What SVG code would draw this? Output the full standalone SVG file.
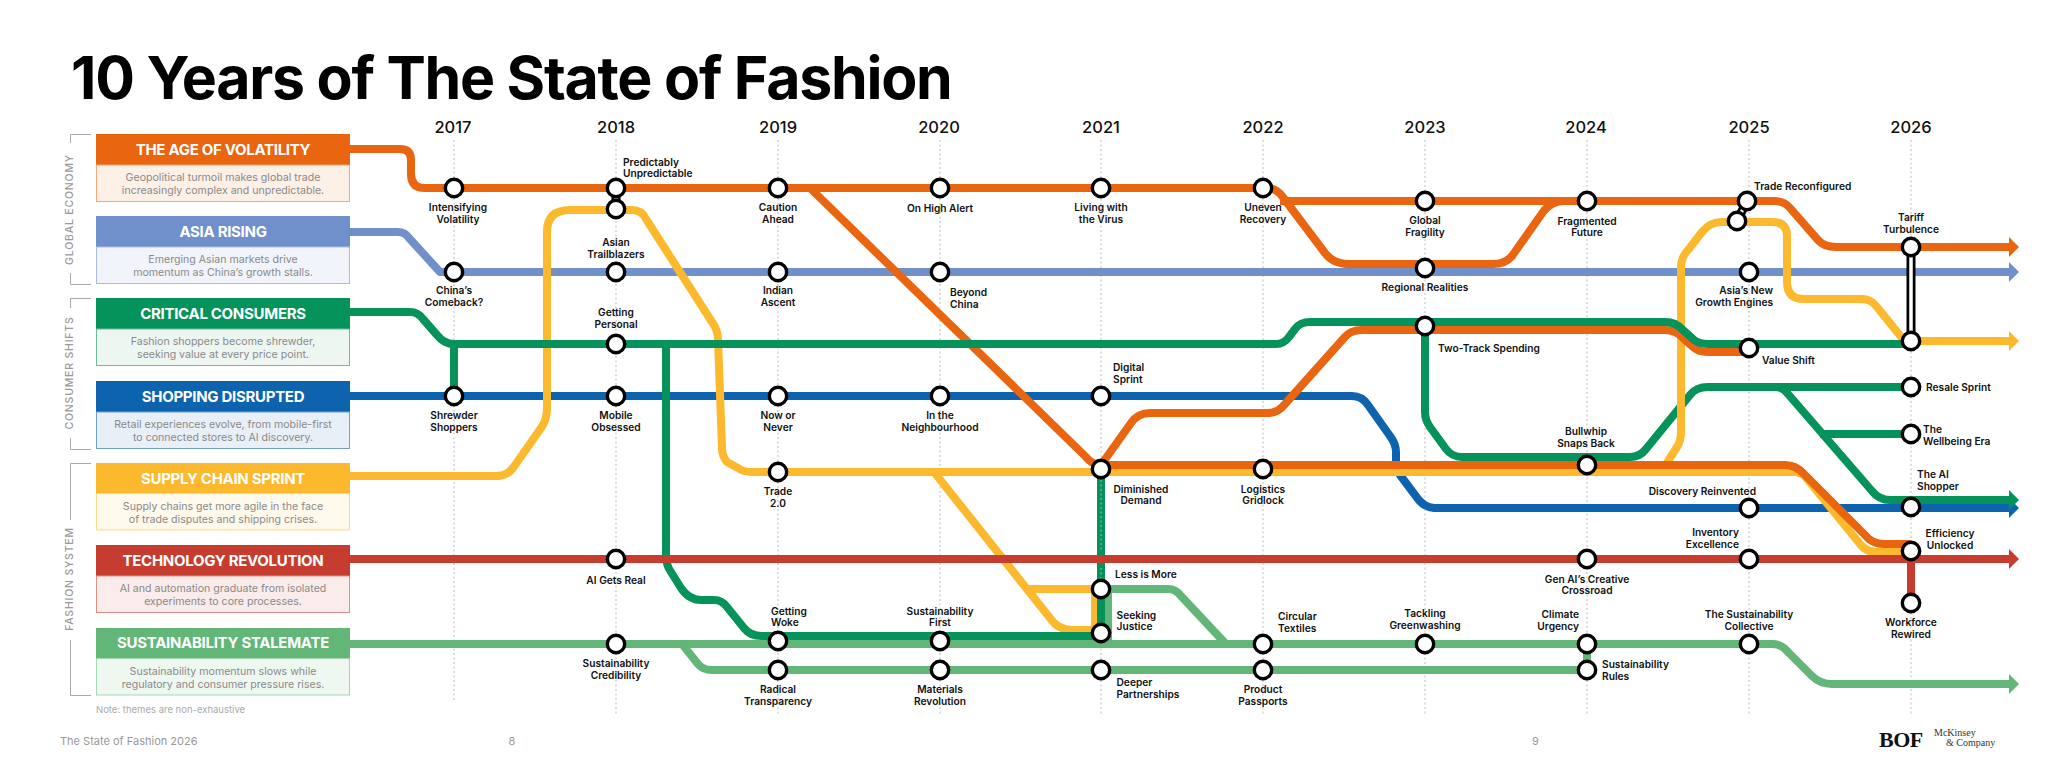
<svg xmlns="http://www.w3.org/2000/svg" width="2048" height="768" viewBox="0 0 2048 768">
<style>
text{font-family:Inter,"Liberation Sans",sans-serif}
.title{font-size:59px;font-weight:700;letter-spacing:-1.26px;fill:#000}
.yr{font-size:16.5px;font-weight:500;text-anchor:middle;fill:#111}
.l{font-size:10.2px;font-weight:600;fill:#111}
.c{text-anchor:middle}
.e{text-anchor:end}
.h{font-size:15px;font-weight:700;letter-spacing:-.3px;fill:#fff;text-anchor:middle}
.b{font-size:10.6px;font-weight:400;fill:#8a8a8a;text-anchor:middle}
.s{font-size:10.5px;font-weight:500;letter-spacing:.8px;fill:#9a9a9a;text-anchor:middle}
.f{font-size:11px;fill:#999}
.bk{fill:none;stroke:#aaa;stroke-width:1}
.grid{fill:none;stroke:#bbb;stroke-width:1;stroke-dasharray:2 2.5}
.ln{fill:none;stroke-width:8;stroke-linejoin:round}
.org{stroke:#E9650F}.per{stroke:#7090CB}.grn{stroke:#06925B}.blu{stroke:#0E63AE}.yel{stroke:#FDB92E}.red{stroke:#C63C2E}.lgr{stroke:#62B678}
.a-org{fill:#E9650F}.a-per{fill:#7090CB}.a-grn{fill:#06925B}.a-blu{fill:#0E63AE}.a-yel{fill:#FDB92E}.a-red{fill:#C63C2E}.a-lgr{fill:#62B678}
.n{fill:#fff;stroke:#000;stroke-width:3.4}
.bar{fill:none;stroke:#000;stroke-width:9}
.barw{fill:none;stroke:#fff;stroke-width:3.5}
</style>

<text class="title" x="71" y="99">10 Years of The State of Fashion</text>

<g id="grid">
<path class="grid" d="M454 140V702M616 140V716M778 140V716M940 140V716M1101 140V716M1263 140V716M1425 140V716M1587 140V716M1749 140V716M1911 140V716"/>
</g>
<g id="years">
<text class="yr" x="453" y="133">2017</text><text class="yr" x="616" y="133">2018</text><text class="yr" x="778" y="133">2019</text><text class="yr" x="939" y="133">2020</text><text class="yr" x="1101" y="133">2021</text><text class="yr" x="1263" y="133">2022</text><text class="yr" x="1425" y="133">2023</text><text class="yr" x="1586" y="133">2024</text><text class="yr" x="1749" y="133">2025</text><text class="yr" x="1911" y="133">2026</text>
</g>

<g id="sections">
<path class="bk" d="M91 134.500H70.500V143M70.500 273V284.500H91"/>
<text class="s" transform="translate(72.500 209.500) rotate(-90)">GLOBAL ECONOMY</text>
<path class="bk" d="M91 298.500H70.500V308M70.500 438V449.500H91"/>
<text class="s" transform="translate(72.500 373) rotate(-90)">CONSUMER SHIFTS</text>
<path class="bk" d="M91 463.500H70.500V520M70.500 640V695.500H91"/>
<text class="s" transform="translate(72.500 579) rotate(-90)">FASHION SYSTEM</text>
</g>

<g id="connectors">
<path class="ln per" d="M350 232H398Q405 232 409 238L440 272H2010"/>
<polygon class="a-per" points="2009,262 2019,272 2009,282"/>
<path class="ln blu" d="M350 396H1352Q1362 396 1368 405L1390 436Q1396 444 1396 452V466Q1397 470 1400 475L1418 499Q1424 507 1434 508H2010"/>
<polygon class="a-blu" points="2009,498 2019,508 2009,518"/>
<path class="ln lgr" d="M350 644H1772Q1782 644 1788 652L1812 676Q1820 684 1832 684H2010"/>
<polygon class="a-lgr" points="2009,674 2019,684 2009,694"/>
<path class="ln lgr" d="M682 644L698 664Q703 670 712 670H1587V644"/>
<path class="ln lgr" d="M1101 589H1168Q1176 589 1181 596L1226 644M1108 589V644"/>
<path class="ln grn" d="M1425 326V412Q1425 420 1430 427L1446 449Q1452 457 1462 457H1630Q1640 457 1646 449L1690 395Q1696 387 1708 387H1911"/>
<path class="ln grn" d="M1775 387Q1783 387 1788 394L1872 491Q1879 500 1890 500H2010M1820 434H1911"/>
<polygon class="a-grn" points="2009,490 2019,500 2009,510"/>
<path class="ln yel" d="M350 476H497Q507 476 513 468L541 428Q547 420 547 408V232Q547 210 570 210H632Q642 210 646 219L712 322Q718 330 718 340L722 448Q722 456 727 462L738 468Q743 472 752 472H1795Q1802 472 1808 480L1860 544Q1866 552 1876 552H1911"/>
<path class="ln yel" d="M934 472L1050 618Q1058 630 1072 630H1095V589H1028"/>
<path class="ln yel" d="M1645 472H1656Q1664 469 1670 458L1677 447Q1681 441 1681 432V268Q1681 257 1688 250L1702 232Q1710 222 1722 222H1772Q1787 222 1787 236V282Q1787 299 1804 299H1862Q1871 299 1877 307L1902 338Q1905 341 1915 341H2010"/>
<polygon class="a-yel" points="2009,331 2019,341 2009,351"/>
<path class="ln org" d="M350 149H400Q411 149 411 160V174Q411 188 425 188H1266Q1276 188 1282 196L1325 253Q1333 264 1350 264H1493Q1505 264 1512 256L1543 212Q1551 201 1565 201H1587M1280 201H1775Q1784 201 1790 208L1818 240Q1824 247 1836 247H2010"/>
<polygon class="a-org" points="2009,237 2019,247 2009,257"/>
<path class="ln org" d="M810 188L1085 456Q1092 465 1101 465H1785Q1796 465 1804 474L1865 535Q1872 544 1884 544H1911"/>
<path class="ln org" d="M1101 465L1131 423Q1138 413 1150 413H1268Q1278 413 1285 404L1344 338Q1350 330 1362 330H1665Q1676 330 1683 338L1693 347Q1698 352 1708 352H1749"/>
<path class="ln grn" d="M350 312H410Q418 312 423 319L437 335Q444 344 454 344V396M454 344H1276Q1284 344 1289 337L1295 329Q1300 322 1310 322H1665Q1676 322 1683 330L1693 339Q1698 344 1708 344H1911"/>
<path class="ln grn" d="M666 344V556Q666 565 671 572L681 588Q689 600 701 600H714Q722 600 727 607L744 628Q750 636 762 636H1101"/>
<path class="ln grn" d="M1101 469V636"/>
<path class="ln red" d="M350 559H2010M1911 559V603"/>
<polygon class="a-red" points="2009,549 2019,559 2009,569"/>
<path class="grid" stroke-opacity=".7" style="stroke:#cde" d="M1101 480V552M1101 568V580"/>
<path class="bar" d="M616 188V209M1747 201L1737 221M1911 247V341"/>
<path class="barw" d="M616 188V209M1747 201L1737 221M1911 247V341"/>
</g>

<g id="theme-volatility"><rect x="96" y="134" width="254" height="31" fill="#E9650F"/><rect x="96.500" y="165" width="253" height="36.500" fill="#FDF0E7" stroke="#F2A877"/><text class="h" x="223" y="155">THE AGE OF VOLATILITY</text><text class="b" x="223" y="181">Geopolitical turmoil makes global trade</text><text class="b" x="223" y="193.500">increasingly complex and unpredictable.</text></g>
<g id="theme-asia"><rect x="96" y="216" width="254" height="31" fill="#7090CB"/><rect x="96.500" y="247" width="253" height="36.500" fill="#F1F4FA" stroke="#A9BCE0"/><text class="h" x="223" y="237">ASIA RISING</text><text class="b" x="223" y="263">Emerging Asian markets drive</text><text class="b" x="223" y="275.500">momentum as China’s growth stalls.</text></g>
<g id="theme-consumers"><rect x="96" y="298" width="254" height="31" fill="#06925B"/><rect x="96.500" y="329" width="253" height="36.500" fill="#EEF6F2" stroke="#6CBB9B"/><text class="h" x="223" y="319">CRITICAL CONSUMERS</text><text class="b" x="223" y="345">Fashion shoppers become shrewder,</text><text class="b" x="223" y="357.500">seeking value at every price point.</text></g>
<g id="theme-shopping"><rect x="96" y="381" width="254" height="31" fill="#0E63AE"/><rect x="96.500" y="412" width="253" height="36.500" fill="#E9EFF7" stroke="#6F9FCF"/><text class="h" x="223" y="402">SHOPPING DISRUPTED</text><text class="b" x="223" y="428">Retail experiences evolve, from mobile-first</text><text class="b" x="223" y="440.500">to connected stores to AI discovery.</text></g>
<g id="theme-supply"><rect x="96" y="463" width="254" height="30.500" fill="#FDB92E"/><rect x="96.500" y="493.500" width="253" height="36.500" fill="#FFF9EC" stroke="#FCD98C"/><text class="h" x="223" y="484">SUPPLY CHAIN SPRINT</text><text class="b" x="223" y="510">Supply chains get more agile in the face</text><text class="b" x="223" y="522.500">of trade disputes and shipping crises.</text></g>
<g id="theme-technology"><rect x="96" y="545" width="254" height="31" fill="#C63C2E"/><rect x="96.500" y="576" width="253" height="36.500" fill="#F9ECEA" stroke="#E08F86"/><text class="h" x="223" y="566">TECHNOLOGY REVOLUTION</text><text class="b" x="223" y="592">AI and automation graduate from isolated</text><text class="b" x="223" y="604.500">experiments to core processes.</text></g>
<g id="theme-sustainability"><rect x="96" y="628" width="254" height="30.500" fill="#62B678"/><rect x="96.500" y="658.500" width="253" height="36.500" fill="#EFF7F1" stroke="#A5D6B2"/><text class="h" x="223" y="648">SUSTAINABILITY STALEMATE</text><text class="b" x="223" y="675">Sustainability momentum slows while</text><text class="b" x="223" y="687.500">regulatory and consumer pressure rises.</text></g>

<g id="n-2017-1"><circle class="n" cx="454" cy="188" r="8.700"/><text class="l c" x="458" y="210.500">Intensifying</text><text class="l c" x="458" y="222.500">Volatility</text></g>
<g id="n-2017-2"><circle class="n" cx="454" cy="272" r="8.700"/><text class="l c" x="454" y="293.500">China’s</text><text class="l c" x="454" y="305.500">Comeback?</text></g>
<g id="n-2017-3"><circle class="n" cx="454" cy="396" r="8.700"/><text class="l c" x="454" y="418.500">Shrewder</text><text class="l c" x="454" y="430.500">Shoppers</text></g>

<g id="n-2018-1"><circle class="n" cx="616" cy="188" r="8.700"/><text class="l" x="623" y="165.500">Predictably</text><text class="l" x="623" y="177">Unpredictable</text></g>
<g id="n-2018-2"><circle class="n" cx="616" cy="209" r="8.700"/></g>
<g id="n-2018-3"><circle class="n" cx="616" cy="272" r="8.700"/><text class="l c" x="616" y="245.500">Asian</text><text class="l c" x="616" y="257.500">Trailblazers</text></g>
<g id="n-2018-4"><circle class="n" cx="616" cy="344" r="8.700"/><text class="l c" x="616" y="315.500">Getting</text><text class="l c" x="616" y="327.500">Personal</text></g>
<g id="n-2018-5"><circle class="n" cx="616" cy="396" r="8.700"/><text class="l c" x="616" y="418.500">Mobile</text><text class="l c" x="616" y="430.500">Obsessed</text></g>
<g id="n-2018-6"><circle class="n" cx="616" cy="559" r="8.700"/><text class="l c" x="616" y="583.500">AI Gets Real</text></g>
<g id="n-2018-7"><circle class="n" cx="616" cy="644" r="8.700"/><text class="l c" x="616" y="666.500">Sustainability</text><text class="l c" x="616" y="678.500">Credibility</text></g>

<g id="n-2019-1"><circle class="n" cx="778" cy="188" r="8.700"/><text class="l c" x="778" y="210.500">Caution</text><text class="l c" x="778" y="222.500">Ahead</text></g>
<g id="n-2019-2"><circle class="n" cx="778" cy="272" r="8.700"/><text class="l c" x="778" y="293.500">Indian</text><text class="l c" x="778" y="305.500">Ascent</text></g>
<g id="n-2019-3"><circle class="n" cx="778" cy="396" r="8.700"/><text class="l c" x="778" y="418.500">Now or</text><text class="l c" x="778" y="430.500">Never</text></g>
<g id="n-2019-4"><circle class="n" cx="778" cy="472" r="8.700"/><text class="l c" x="778" y="494.500">Trade</text><text class="l c" x="778" y="506.500">2.0</text></g>
<g id="n-2019-5"><circle class="n" cx="778" cy="641" r="8.700"/><text class="l" x="771" y="614.500">Getting</text><text class="l" x="771" y="626">Woke</text></g>
<g id="n-2019-6"><circle class="n" cx="778" cy="670" r="8.700"/><text class="l c" x="778" y="692.500">Radical</text><text class="l c" x="778" y="704.500">Transparency</text></g>

<g id="n-2020-1"><circle class="n" cx="940" cy="188" r="8.700"/><text class="l c" x="940" y="212">On High Alert</text></g>
<g id="n-2020-2"><circle class="n" cx="940" cy="272" r="8.700"/><text class="l" x="950" y="295.500">Beyond</text><text class="l" x="950" y="307.500">China</text></g>
<g id="n-2020-3"><circle class="n" cx="940" cy="396" r="8.700"/><text class="l c" x="940" y="418.500">In the</text><text class="l c" x="940" y="430.500">Neighbourhood</text></g>
<g id="n-2020-4"><circle class="n" cx="940" cy="641" r="8.700"/><text class="l c" x="940" y="614.500">Sustainability</text><text class="l c" x="940" y="626">First</text></g>
<g id="n-2020-5"><circle class="n" cx="940" cy="670" r="8.700"/><text class="l c" x="940" y="692.500">Materials</text><text class="l c" x="940" y="704.500">Revolution</text></g>

<g id="n-2021-1"><circle class="n" cx="1101" cy="188" r="8.700"/><text class="l c" x="1101" y="210.500">Living with</text><text class="l c" x="1101" y="222.500">the Virus</text></g>
<g id="n-2021-2"><circle class="n" cx="1101" cy="396" r="8.700"/><text class="l" x="1113" y="370.500">Digital</text><text class="l" x="1113" y="382.500">Sprint</text></g>
<g id="n-2021-3"><circle class="n" cx="1101" cy="469" r="8.700"/><text class="l c" x="1141" y="492.500">Diminished</text><text class="l c" x="1141" y="504">Demand</text></g>
<g id="n-2021-4"><circle class="n" cx="1101" cy="589" r="8.700"/><text class="l" x="1115" y="577.500">Less is More</text></g>
<g id="n-2021-5"><circle class="n" cx="1101" cy="633" r="8.700"/><text class="l" x="1116.500" y="618.500">Seeking</text><text class="l" x="1116.500" y="630">Justice</text></g>
<g id="n-2021-6"><circle class="n" cx="1101" cy="670" r="8.700"/><text class="l" x="1116.500" y="685.500">Deeper</text><text class="l" x="1116.500" y="697.500">Partnerships</text></g>

<g id="n-2022-1"><circle class="n" cx="1263" cy="188" r="8.700"/><text class="l c" x="1263" y="210.500">Uneven</text><text class="l c" x="1263" y="222.500">Recovery</text></g>
<g id="n-2022-2"><circle class="n" cx="1263" cy="469" r="8.700"/><text class="l c" x="1263" y="492.500">Logistics</text><text class="l c" x="1263" y="504">Gridlock</text></g>
<g id="n-2022-3"><circle class="n" cx="1263" cy="644" r="8.700"/><text class="l" x="1278" y="619.500">Circular</text><text class="l" x="1278" y="631.500">Textiles</text></g>
<g id="n-2022-4"><circle class="n" cx="1263" cy="670" r="8.700"/><text class="l c" x="1263" y="692.500">Product</text><text class="l c" x="1263" y="704.500">Passports</text></g>

<g id="n-2023-1"><circle class="n" cx="1425" cy="201" r="8.700"/><text class="l c" x="1425" y="223.500">Global</text><text class="l c" x="1425" y="235.500">Fragility</text></g>
<g id="n-2023-2"><circle class="n" cx="1425" cy="268" r="8.700"/><text class="l c" x="1425" y="290.500">Regional Realities</text></g>
<g id="n-2023-3"><circle class="n" cx="1425" cy="326" r="8.700"/><text class="l" x="1438" y="351.500">Two-Track Spending</text></g>
<g id="n-2023-4"><circle class="n" cx="1425" cy="644" r="8.700"/><text class="l c" x="1425" y="616.500">Tackling</text><text class="l c" x="1425" y="628.500">Greenwashing</text></g>

<g id="n-2024-1"><circle class="n" cx="1587" cy="201" r="8.700"/><text class="l c" x="1587" y="224.500">Fragmented</text><text class="l c" x="1587" y="236">Future</text></g>
<g id="n-2024-2"><circle class="n" cx="1587" cy="465" r="8.700"/><text class="l c" x="1586" y="434.500">Bullwhip</text><text class="l c" x="1586" y="446.500">Snaps Back</text></g>
<g id="n-2024-3"><circle class="n" cx="1587" cy="559" r="8.700"/><text class="l c" x="1587" y="582.500">Gen AI’s Creative</text><text class="l c" x="1587" y="594">Crossroad</text></g>
<g id="n-2024-4"><circle class="n" cx="1587" cy="644" r="8.700"/><text class="l e" x="1579" y="617.500">Climate</text><text class="l e" x="1579" y="629.500">Urgency</text></g>
<g id="n-2024-5"><circle class="n" cx="1587" cy="670" r="8.700"/><text class="l" x="1602" y="667.500">Sustainability</text><text class="l" x="1602" y="679.500">Rules</text></g>

<g id="n-2025-1"><circle class="n" cx="1747" cy="201" r="8.700"/><text class="l" x="1754" y="189.500">Trade Reconfigured</text></g>
<g id="n-2025-2"><circle class="n" cx="1737" cy="221" r="8.700"/></g>
<g id="n-2025-3"><circle class="n" cx="1749" cy="272" r="8.700"/><text class="l e" x="1773" y="293.500">Asia’s New</text><text class="l e" x="1773" y="305.500">Growth Engines</text></g>
<g id="n-2025-4"><circle class="n" cx="1749" cy="348" r="8.700"/><text class="l" x="1762" y="363.500">Value Shift</text></g>
<g id="n-2025-5"><circle class="n" cx="1749" cy="508" r="8.700"/><text class="l e" x="1756" y="494.500">Discovery Reinvented</text></g>
<g id="n-2025-6"><circle class="n" cx="1749" cy="559" r="8.700"/><text class="l e" x="1739" y="535.500">Inventory</text><text class="l e" x="1739" y="547.500">Excellence</text></g>
<g id="n-2025-7"><circle class="n" cx="1749" cy="644" r="8.700"/><text class="l c" x="1749" y="617.500">The Sustainability</text><text class="l c" x="1749" y="629.500">Collective</text></g>

<g id="n-2026-1"><circle class="n" cx="1911" cy="247" r="8.700"/><text class="l c" x="1911" y="220.500">Tariff</text><text class="l c" x="1911" y="232.500">Turbulence</text></g>
<g id="n-2026-2"><circle class="n" cx="1911" cy="341" r="8.700"/></g>
<g id="n-2026-3"><circle class="n" cx="1911" cy="387" r="8.700"/><text class="l" x="1926" y="390.500">Resale Sprint</text></g>
<g id="n-2026-4"><circle class="n" cx="1911" cy="434" r="8.700"/><text class="l" x="1923" y="432.500">The</text><text class="l" x="1923" y="444.500">Wellbeing Era</text></g>
<g id="n-2026-5"><circle class="n" cx="1911" cy="507" r="8.700"/><text class="l" x="1917" y="477.500">The AI</text><text class="l" x="1917" y="489.500">Shopper</text></g>
<g id="n-2026-6"><circle class="n" cx="1911" cy="551" r="8.700"/><text class="l c" x="1950" y="536.500">Efficiency</text><text class="l c" x="1950" y="548.500">Unlocked</text></g>
<g id="n-2026-7"><circle class="n" cx="1911" cy="603" r="8.700"/><text class="l c" x="1911" y="625.500">Workforce</text><text class="l c" x="1911" y="637.500">Rewired</text></g>

<g id="footer">
<text x="96" y="713" style="font-size:9.500px;fill:#aaa">Note: themes are non-exhaustive</text>
<text class="f" x="60" y="745">The State of Fashion 2026</text>
<text class="f" x="512" y="745" style="text-anchor:middle">8</text>
<text class="f" x="1535.500" y="745" style="text-anchor:middle">9</text>
<text x="1879" y="747" style="font-family:'Liberation Serif',serif;font-weight:700;font-size:22px;fill:#111;letter-spacing:-.5px">BOF</text>
<text x="1934" y="736" style="font-family:'Liberation Serif',serif;font-size:10px;fill:#333">McKinsey</text>
<text x="1946" y="746" style="font-family:'Liberation Serif',serif;font-size:10px;fill:#333">&amp; Company</text>
</g>
</svg>
